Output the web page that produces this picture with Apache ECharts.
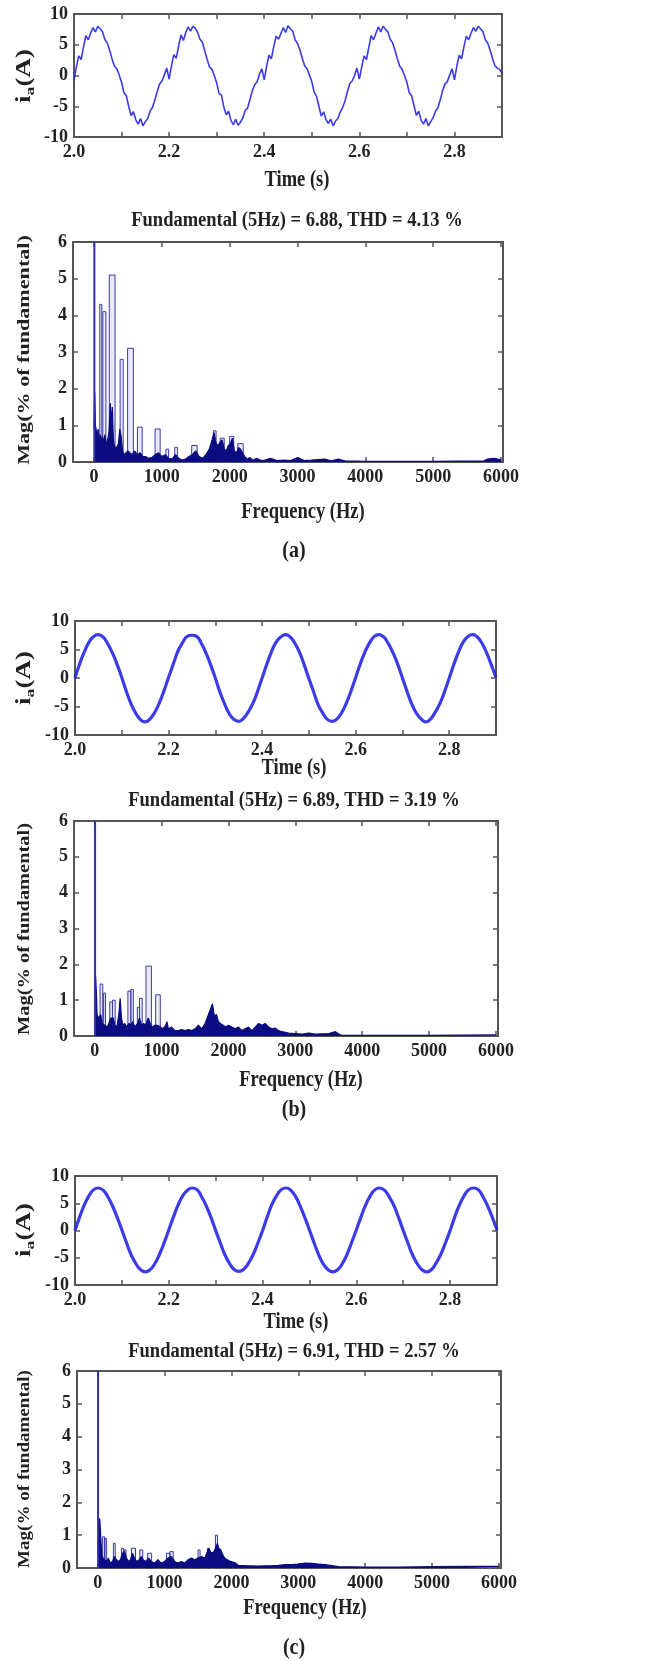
<!DOCTYPE html>
<html><head><meta charset="utf-8">
<script src="https://cdn.jsdelivr.net/npm/echarts@6/dist/echarts.min.js"></script>
<style>html,body{margin:0;padding:0;background:#fff}#c{width:646px;height:1661px}</style>
</head><body><div id="c"></div>
<script>
// ---------------- DATA ----------------
const timeStart = 2.0;
const timeStepA = 0.005;
const timeStepBC = 0.01;
const timeTickLabels = ['2.0', '2.2', '2.4', '2.6', '2.8'];
const freqTickLabels = [0, 1000, 2000, 3000, 4000, 5000, 6000];

// i_a waveform (a), sampled every 5 ms from 2.000 s
const currentA = [
 -0.8, 1.4, 3.2, 2.6, 4.6, 6.5, 5.8, 6.9, 7.8, 7.1, 8.0, 7.6, 7.1, 5.8, 5.3, 4.1, 2.7, 1.5, 1.1, 0.1,
 -1.1, -2.8, -3.3, -5.0, -6.5, -5.9, -7.2, -7.9, -7.0, -8.2, -7.5, -7.0, -5.8, -5.2, -4.0, -2.6, -1.4, -0.9, 0.1, 1.2,
 -0.6, 1.6, 3.4, 2.8, 4.8, 6.6, 5.7, 7.0, 7.9, 7.2, 8.0, 7.7, 7.0, 5.9, 5.4, 4.0, 2.6, 1.4, 1.0, 0.0,
 -1.2, -2.9, -3.2, -5.1, -6.4, -5.8, -7.3, -8.0, -7.1, -8.1, -7.6, -6.9, -5.7, -5.3, -3.9, -2.5, -1.5, -1.0, 0.2, 1.1,
 -0.7, 1.5, 3.3, 2.7, 4.7, 6.4, 5.9, 6.8, 7.8, 7.0, 8.1, 7.6, 7.2, 5.8, 5.2, 4.2, 2.8, 1.6, 1.1, 0.1,
 -1.0, -2.7, -3.4, -5.0, -6.6, -5.9, -7.2, -7.8, -7.1, -8.2, -7.4, -7.0, -5.9, -5.2, -4.1, -2.6, -1.3, -0.9, 0.0, 1.2,
 -0.6, 1.4, 3.2, 2.6, 4.6, 6.5, 5.8, 6.9, 7.9, 7.1, 8.0, 7.5, 7.1, 5.9, 5.3, 4.1, 2.7, 1.5, 1.0, 0.0,
 -1.1, -2.8, -3.3, -4.9, -6.5, -5.8, -7.3, -7.9, -7.0, -8.2, -7.5, -6.9, -5.8, -5.3, -4.0, -2.5, -1.4, -1.0, 0.1, 1.1,
 -0.7, 1.5, 3.3, 2.7, 4.7, 6.4, 5.8, 6.9, 7.8, 7.2, 8.0, 7.6, 7.1, 5.8, 5.3, 4.1, 2.8, 1.6, 1.2, 1.0, 0.3
];
// i_a waveform (b), sampled every 10 ms
const currentB = [
 0.0, 2.5, 4.6, 6.3, 7.3, 7.6, 7.2, 6.0, 4.4, 2.4, 0.1, -2.4, -4.6, -6.2, -7.3, -7.7, -7.2, -6.1, -4.4, -2.3,
 0.1, 2.4, 4.7, 6.2, 7.3, 7.5, 7.3, 6.1, 4.4, 2.3, 0.0, -2.5, -4.6, -6.3, -7.3, -7.6, -7.1, -6.0, -4.5, -2.4,
 0.0, 2.4, 4.6, 6.3, 7.2, 7.6, 7.2, 6.1, 4.5, 2.3, -0.1, -2.4, -4.7, -6.2, -7.3, -7.6, -7.2, -6.1, -4.4, -2.3,
 0.1, 2.5, 4.6, 6.2, 7.3, 7.6, 7.2, 6.0, 4.4, 2.4, 0.0, -2.4, -4.6, -6.2, -7.2, -7.7, -7.2, -6.0, -4.5, -2.4,
 0.0, 2.4, 4.6, 6.3, 7.3, 7.6, 7.2, 6.1, 4.4, 2.3, 0.1
];
// i_a waveform (c), sampled every 10 ms
const currentC = [
 0.0, 2.5, 4.7, 6.4, 7.5, 7.8, 7.4, 6.2, 4.5, 2.4, 0.1, -2.3, -4.5, -6.1, -7.2, -7.6, -7.2, -6.1, -4.4, -2.3,
 0.1, 2.5, 4.7, 6.4, 7.4, 7.8, 7.5, 6.2, 4.5, 2.4, 0.0, -2.3, -4.5, -6.1, -7.2, -7.5, -7.1, -6.0, -4.4, -2.3,
 0.0, 2.5, 4.8, 6.4, 7.5, 7.8, 7.4, 6.3, 4.5, 2.4, 0.1, -2.3, -4.5, -6.2, -7.2, -7.6, -7.2, -6.1, -4.4, -2.2,
 0.1, 2.5, 4.7, 6.4, 7.5, 7.8, 7.4, 6.2, 4.6, 2.4, 0.0, -2.3, -4.5, -6.1, -7.2, -7.6, -7.2, -6.0, -4.4, -2.3,
 0.0, 2.5, 4.7, 6.4, 7.5, 7.8, 7.5, 6.2, 4.5, 2.4, 0.1
];

// Fundamental bin (clipped at axis top)
const fundFreq = [5];
const fundMagA = [100];
const fundMagB = [100];
const fundMagC = [100];

// Dense harmonic floor, spectrum (a)
const floorFreqA = [0,10,20,30,45,60,75,90,105,120,140,160,180,200,220,240,255,270,285,300,320,340,360,380,400,420,440,470,500,530,560,600,640,680,720,760,800,850,900,950,1000,1050,1100,1150,1200,1250,1300,1350,1400,1450,1500,1550,1600,1650,1700,1740,1770,1800,1830,1860,1890,1920,1950,1980,2010,2040,2070,2100,2130,2160,2190,2220,2260,2300,2340,2400,2450,2500,2600,2700,2800,2900,3000,3100,3200,3400,3500,3600,3700,4000,5000,5750,5800,5900,6000];
const floorMagA  = [0.9,1.9,1.0,0.9,0.7,0.9,0.6,0.75,0.5,0.7,0.55,0.75,0.45,0.6,0.8,1.6,1.0,1.5,0.6,0.45,0.35,0.3,0.5,0.9,0.7,0.3,0.2,0.25,0.3,0.25,0.2,0.3,0.2,0.25,0.15,0.15,0.1,0.12,0.2,0.25,0.15,0.2,0.1,0.08,0.2,0.1,0.05,0.08,0.15,0.2,0.3,0.15,0.1,0.2,0.35,0.6,0.8,0.5,0.45,0.55,0.6,0.35,0.3,0.45,0.5,0.65,0.3,0.25,0.4,0.35,0.25,0.15,0.08,0.12,0.05,0.1,0.05,0.04,0.1,0.04,0.05,0.04,0.12,0.04,0.05,0.08,0.03,0.08,0.03,0.02,0.02,0.03,0.08,0.1,0.06];
// Tall harmonic groups, spectrum (a): start Hz, end Hz, magnitude
const peakStartA = [85, 130, 225, 385, 495, 640, 900, 1060, 1190, 1440, 1760, 1860, 2000, 2120];
const peakEndA   = [115, 175, 310, 430, 580, 710, 975, 1100, 1230, 1520, 1800, 1920, 2060, 2200];
const peakMagA   = [4.3, 4.1, 5.1, 2.8, 3.1, 0.95, 0.9, 0.35, 0.4, 0.45, 0.85, 0.65, 0.7, 0.5];

// spectrum (b)
const floorFreqB = [0,8,15,25,35,50,70,90,110,130,150,170,190,210,240,260,280,300,330,360,380,400,420,450,480,510,540,570,600,640,670,700,730,760,800,840,870,900,940,980,1020,1060,1080,1100,1150,1200,1250,1300,1350,1400,1450,1500,1550,1600,1650,1700,1730,1760,1790,1820,1850,1880,1920,1960,2000,2050,2100,2150,2200,2250,2300,2350,2400,2450,2500,2550,2600,2650,2700,2750,2800,2850,2900,3000,3100,3200,3300,3400,3500,3600,3660,3700,5000,6000];
const floorMagB  = [1.2,1.75,1.6,1.2,0.6,0.5,0.45,0.6,0.35,0.4,0.3,0.35,0.25,0.3,0.5,0.45,0.5,0.3,0.25,0.6,1.05,0.5,0.3,0.35,0.25,0.35,0.3,0.4,0.25,0.35,0.5,0.3,0.35,0.3,0.5,0.3,0.25,0.3,0.3,0.25,0.2,0.3,0.4,0.2,0.25,0.15,0.15,0.18,0.15,0.18,0.15,0.2,0.3,0.2,0.35,0.6,0.75,0.9,0.55,0.6,0.4,0.35,0.3,0.25,0.3,0.25,0.2,0.25,0.15,0.2,0.25,0.15,0.25,0.35,0.3,0.35,0.25,0.2,0.22,0.15,0.12,0.1,0.08,0.07,0.05,0.08,0.05,0.06,0.07,0.12,0.04,0.02,0.02,0.03];
const peakStartB = [80, 133, 225, 265, 496, 540, 637, 670, 766, 911];
const peakEndB   = [120, 161, 265, 306, 540, 577, 670, 710, 847, 980];
const peakMagB   = [1.45, 1.2, 0.95, 1.0, 1.25, 1.3, 0.8, 1.05, 1.95, 1.15];

// spectrum (c)
const floorFreqC = [0,10,30,50,60,80,100,130,160,190,220,250,280,310,340,370,400,430,460,490,520,550,580,620,650,680,720,760,800,850,900,950,1000,1050,1100,1150,1200,1250,1300,1350,1400,1450,1500,1550,1600,1630,1660,1700,1740,1770,1790,1810,1840,1870,1900,1940,1980,2020,2060,2100,2200,2400,2600,2700,2800,2900,3000,3100,3200,3300,3400,3500,3600,4000,4500,5000,5500,6000];
const floorMagC  = [1.5,1.55,1.5,1.5,0.4,0.3,0.25,0.2,0.3,0.15,0.2,0.35,0.25,0.2,0.25,0.45,0.5,0.3,0.2,0.25,0.45,0.3,0.2,0.25,0.35,0.25,0.2,0.3,0.2,0.15,0.25,0.15,0.2,0.3,0.35,0.2,0.15,0.2,0.15,0.25,0.3,0.25,0.3,0.35,0.3,0.45,0.6,0.45,0.5,0.65,0.75,0.6,0.55,0.4,0.3,0.25,0.2,0.18,0.15,0.08,0.07,0.06,0.07,0.08,0.1,0.1,0.12,0.15,0.14,0.12,0.1,0.07,0.04,0.03,0.03,0.04,0.05,0.05];
const peakStartC = [73, 109, 234, 355, 390, 504, 629, 746, 1028, 1080, 1500, 1640, 1760];
const peakEndC   = [101, 133, 262, 390, 423, 565, 673, 806, 1080, 1129, 1530, 1670, 1790];
const peakMagC   = [0.95, 0.9, 0.75, 0.6, 0.55, 0.6, 0.55, 0.45, 0.45, 0.5, 0.55, 0.6, 1.0];

const titleA = 'Fundamental (5Hz) = 6.88, THD = 4.13 %';
const titleB = 'Fundamental (5Hz) = 6.89, THD = 3.19 %';
const titleC = 'Fundamental (5Hz) = 6.91, THD = 2.57 %';

// ---------------- RENDER ----------------
const FONT = 'Liberation Serif';
const FRAME = '#555555';
const NAVY = '#0b0b82';
const WAVE = '#2626e6';
const TXT = '#222222';

const grids = [
  {left: 74, top: 14,   width: 428, height: 123},
  {left: 73, top: 242,  width: 430, height: 220},
  {left: 75, top: 621,  width: 421, height: 114},
  {left: 74, top: 821,  width: 424, height: 215},
  {left: 75, top: 1176, width: 422, height: 109},
  {left: 77, top: 1371, width: 424, height: 197}
].map(g => Object.assign({show: true, borderColor: FRAME, borderWidth: 2, backgroundColor: '#fff', containLabel: false}, g));

const tickStyle = {inside: true, length: 5, lineStyle: {color: FRAME, width: 1.5}};
const lblBase = {fontFamily: FONT, fontWeight: 'bold', fontSize: 18, color: TXT, margin: 6};

const xAxes = [], yAxes = [];
function timeAxes(gi) {
  ['bottom', 'top'].forEach(pos => {
    xAxes.push({
      type: 'value', gridIndex: gi, position: pos, min: 2.0, max: 2.9, interval: 0.1,
      axisLine: {show: false, onZero: false}, splitLine: {show: false}, axisTick: tickStyle,
      axisLabel: pos === 'bottom' ? Object.assign({}, lblBase, {
        showMinLabel: true, showMaxLabel: true,
        formatter: v => { const s = v.toFixed(1); return timeTickLabels.indexOf(s) >= 0 ? s : ''; }
      }) : {show: false}
    });
  });
  ['left', 'right'].forEach(pos => {
    yAxes.push({
      type: 'value', gridIndex: gi, position: pos, min: -10, max: 10, interval: 5,
      axisLine: {show: false, onZero: false}, splitLine: {show: false}, axisTick: tickStyle,
      axisLabel: pos === 'left' ? Object.assign({}, lblBase, {formatter: v => String(v)}) : {show: false}
    });
  });
}
function specAxes(gi) {
  ['bottom', 'top'].forEach(pos => {
    xAxes.push({
      type: 'value', gridIndex: gi, position: pos, min: -310, max: 6030,
      axisLine: {show: false, onZero: false}, splitLine: {show: false},
      axisTick: Object.assign({customValues: freqTickLabels}, tickStyle),
      axisLabel: pos === 'bottom' ? Object.assign({}, lblBase, {customValues: freqTickLabels, formatter: v => String(Math.round(v))}) : {show: false}
    });
  });
  ['left', 'right'].forEach(pos => {
    yAxes.push({
      type: 'value', gridIndex: gi, position: pos, min: 0, max: 6, interval: 1,
      axisLine: {show: false, onZero: false}, splitLine: {show: false}, axisTick: tickStyle,
      axisLabel: pos === 'left' ? Object.assign({}, lblBase, {formatter: v => String(v)}) : {show: false}
    });
  });
}
timeAxes(0); specAxes(1); timeAxes(2); specAxes(3); timeAxes(4); specAxes(5);

function timeSeries(gi, values, step, width, smooth) {
  return {
    type: 'line', xAxisIndex: 2 * gi, yAxisIndex: 2 * gi,
    data: values.map((v, i) => [timeStart + i * step, v]),
    showSymbol: false, smooth: smooth, clip: true,
    lineStyle: {color: WAVE, width: width, opacity: 0.9}
  };
}
function renderPeak(params, api) {
  const p0 = api.coord([api.value(0), 0]);
  const p1 = api.coord([api.value(1), api.value(2)]);
  const cs = params.coordSys;
  const top = Math.max(p1[1], cs.y);
  return {
    type: 'rect',
    shape: {x: p0[0], y: top, width: Math.max(1, p1[0] - p0[0]), height: p0[1] - top},
    style: {fill: 'rgba(110,110,215,0.15)', stroke: '#3a3aaa', lineWidth: 1}
  };
}
function specSeries(gi, ff, fm, ps, pe, pm, fundM) {
  return [
    {type: 'custom', xAxisIndex: 2 * gi, yAxisIndex: 2 * gi, z: 2,
     data: ps.map((s, i) => [s, pe[i], pm[i]]), encode: {x: [0, 1], y: 2}, renderItem: renderPeak},
    {type: 'line', xAxisIndex: 2 * gi, yAxisIndex: 2 * gi, z: 3,
     data: ff.map((f, i) => [f, fm[i]]), showSymbol: false,
     lineStyle: {color: NAVY, width: 1.2}, areaStyle: {color: NAVY, opacity: 1}},
    {type: 'bar', xAxisIndex: 2 * gi, yAxisIndex: 2 * gi, z: 4, clip: true,
     data: fundFreq.map((f, i) => [f, fundM[i]]), barWidth: 2, itemStyle: {color: '#2f2fae'}}
  ];
}

const series = [
  timeSeries(0, currentA, timeStepA, 1.6, false),
  ...specSeries(1, floorFreqA, floorMagA, peakStartA, peakEndA, peakMagA, fundMagA),
  timeSeries(2, currentB, timeStepBC, 3.2, true),
  ...specSeries(3, floorFreqB, floorMagB, peakStartB, peakEndB, peakMagB, fundMagB),
  timeSeries(4, currentC, timeStepBC, 3.2, true),
  ...specSeries(5, floorFreqC, floorMagC, peakStartC, peakEndC, peakMagC, fundMagC)
];

function txt(text, x, y, size, opts) {
  return Object.assign({
    type: 'text', x: x, y: y, z: 100,
    style: {text: text, fill: TXT, font: 'bold ' + size + 'px "' + FONT + '"', align: 'center', verticalAlign: 'middle'}
  }, opts || {});
}
function iaLabel(y) {
  return {
    type: 'text', x: 25, y: y, rotation: Math.PI / 2, scaleX: 1.35, z: 100,
    style: {
      text: '{i|i}{s|a}{i|(A)}', align: 'center', verticalAlign: 'middle',
      rich: {
        i: {fontFamily: FONT, fontWeight: 'bold', fontSize: 20, fill: TXT, lineHeight: 24},
        s: {fontFamily: FONT, fontWeight: 'bold', fontSize: 13, fill: TXT, lineHeight: 24, verticalAlign: 'bottom'}
      }
    }
  };
}
function magLabel(y, sc) {
  return txt('Mag(% of fundamental)', 25, y, 17, {rotation: Math.PI / 2, scaleX: sc});
}

const graphic = [
  iaLabel(76),
  txt('Time (s)', 297, 180, 18.5, {scaleY: 1.2}),
  txt(titleA, 297, 221, 18.5, {scaleY: 1.15}),
  magLabel(350, 1.3),
  txt('Frequency (Hz)', 303, 512, 18.5, {scaleY: 1.2}),
  txt('(a)', 294, 551, 20, {scaleY: 1.15}),

  iaLabel(678),
  txt('Time (s)', 294, 768, 18.5, {scaleY: 1.2}),
  txt(titleB, 294, 801, 18.5, {scaleY: 1.15}),
  magLabel(929, 1.2),
  txt('Frequency (Hz)', 301, 1080, 18.5, {scaleY: 1.2}),
  txt('(b)', 294, 1110, 20, {scaleY: 1.15}),

  iaLabel(1230),
  txt('Time (s)', 296, 1322, 18.5, {scaleY: 1.2}),
  txt(titleC, 294, 1352, 18.5, {scaleY: 1.15}),
  magLabel(1469, 1.12),
  txt('Frequency (Hz)', 305, 1608, 18.5, {scaleY: 1.2}),
  txt('(c)', 294, 1648, 20, {scaleY: 1.15})
];

const chart = echarts.init(document.getElementById('c'), null, {renderer: 'canvas'});
chart.setOption({
  animation: false,
  backgroundColor: '#ffffff',
  grid: grids, xAxis: xAxes, yAxis: yAxes, series: series, graphic: graphic
});
</script></body></html>
